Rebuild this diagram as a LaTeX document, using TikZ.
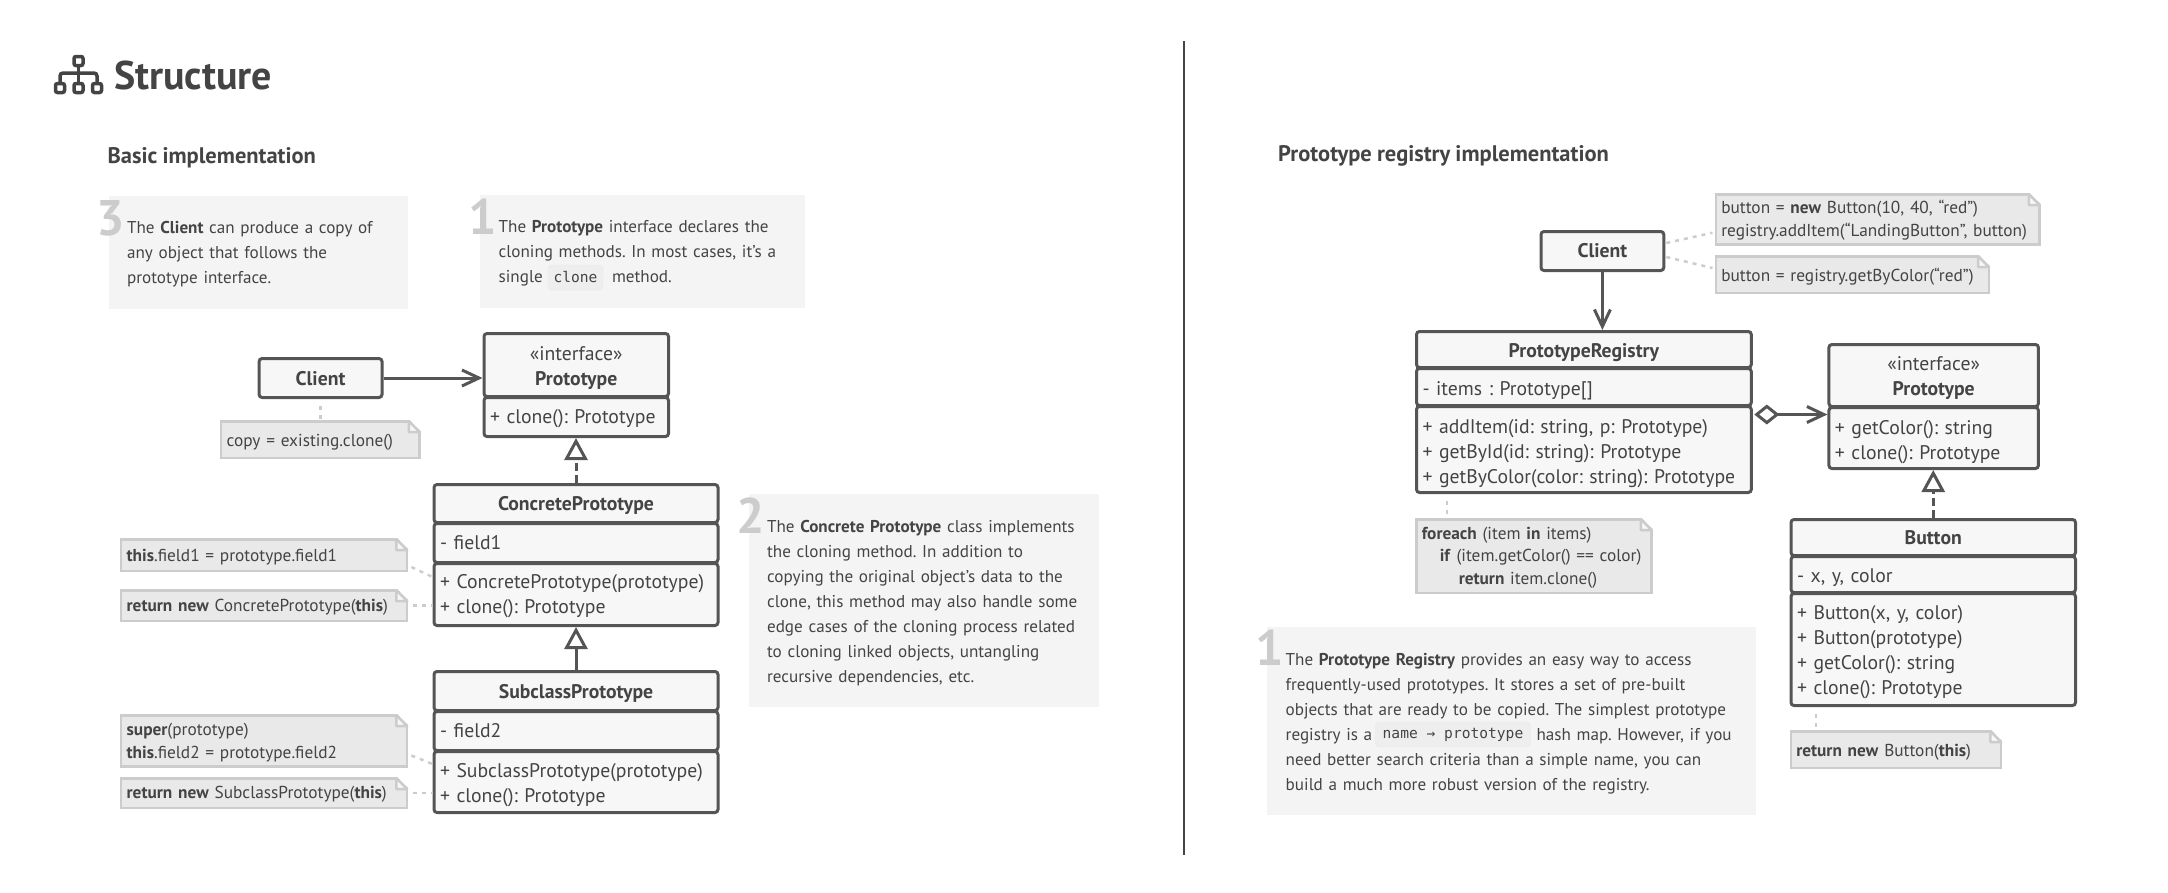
\documentclass[tikz,border=0pt]{standalone}
\usepackage{fontspec}
\setmainfont{PT Sans}[WordSpace=0.9]
\newfontfamily\codefont{DejaVu Sans Mono}
\usetikzlibrary{arrows.meta}
\definecolor{inkgray}{HTML}{444444}
\definecolor{linegray}{HTML}{555555}
\definecolor{boxfill}{HTML}{F7F7F7}
\definecolor{cardfill}{HTML}{F4F4F4}
\definecolor{notefill}{HTML}{E9E9E9}
\definecolor{noteline}{HTML}{CCCCCC}
\definecolor{chipfill}{HTML}{EEEEEE}
\tikzset{
  nudge/.style={execute at begin node={\rule{0pt}{#1}}},
  textfoot/.style={execute at end node={\rule[-8pt]{0pt}{8pt}}},
  classpart/.style 2 args={draw=linegray, fill=boxfill, line width=3pt, rounded corners=3pt,
    anchor=north west, align=left, inner xsep=6pt, inner ysep=0pt, text=inkgray, textfoot,
    text width=#1-12pt, minimum height=#2, font=\fontsize{19.7}{25}\selectfont},
  classhead/.style={align=center},
  notebox/.style 2 args={draw=noteline, fill=notefill, line width=2.5pt,
    anchor=north west, align=left, inner xsep=5.5pt, inner ysep=0pt, text=inkgray, textfoot,
    text width=#1-11pt, minimum height=#2, font=\fontsize{17.3}{22.5}\selectfont},
  foldtip/.style={draw=noteline, fill=boxfill, line width=2.5pt, line join=round},
  cardbox/.style 2 args={fill=cardfill, anchor=north west, align=left, inner xsep=18.5pt,
    inner ysep=0pt, text=inkgray, text width=#1-37pt, minimum height=#2, textfoot,
    font=\fontsize{17.1}{25}\selectfont},
  cardnum/.style={anchor=base west, inner sep=0pt, text=noteline, font=\fontsize{50}{50}\selectfont\bfseries},
  chipbox/.style={fill=chipfill, draw=black!9, rounded corners=4pt, inner xsep=0pt, inner ysep=0pt,
    text=inkgray, font=\fontsize{14.6}{18}\codefont},
  headtext/.style={anchor=base west, inner sep=0pt, text=inkgray, font=\fontsize{22.5}{26}\selectfont\bfseries},
  iconbox/.style={draw=inkgray, line width=3.5pt, rounded corners=2pt, minimum size=9pt, inner sep=0pt},
  link/.style={draw=linegray, line width=3pt},
  seelink/.style={link, -{Straight Barb[length=17pt,width=16pt]}},
  extendlink/.style={link, -{Triangle[open,length=22pt,width=23pt,fill=white]}},
  implementlink/.style={extendlink, dash pattern=on 8pt off 4pt},
  notelink/.style={draw=noteline, line width=2.5pt, dash pattern=on 4pt off 5pt},
}
\newcommand{\notefold}[1]{
  \fill[white] ([xshift=-12pt,yshift=1pt]#1.north east) -- ([xshift=1pt,yshift=1pt]#1.north east)
    -- ([xshift=1pt,yshift=-12pt]#1.north east) -- cycle;
  \draw[foldtip] ([xshift=-12pt,yshift=-1.25pt]#1.north east) -- ([xshift=-1.25pt,yshift=-12pt]#1.north east)
    -- ([xshift=-12pt,yshift=-12pt]#1.north east) -- cycle;
}
\frenchspacing
\begin{document}
\begin{tikzpicture}[x=1pt, y=-1pt]
  \useasboundingbox (0,0) rectangle (2168,892);
  \coordinate (dividertop) at (1184,41);
  \coordinate (dividerbottom) at (1184,855);
  \draw[inkgray, line width=1.2pt] (dividertop) -- (dividerbottom);

  \node[iconbox] (iconroot) at (78.5,61) {};
  \node[iconbox] (iconleft) at (60,88) {};
  \node[iconbox] (iconmid) at (78.5,88) {};
  \node[iconbox] (iconright) at (97,88) {};
  \draw[draw=inkgray, line width=3.5pt] (iconroot) -- (iconmid);
  \draw[draw=inkgray, line width=3.5pt, rounded corners=3pt] (iconleft) -- ++(0,-15) -| (iconright);
  \node[headtext, font=\fontsize{40}{44}\selectfont\bfseries] (structure) at (114,89) {Structure};
  \node[headtext] (basictitle) at (107.5,163) {Basic implementation};
  \node[headtext] (registrytitle) at (1278,161) {Prototype registry implementation};

  \node[cardbox={299.5pt}{113pt}, nudge=19pt] (cardclient) at (108.4,196) {The \textbf{Client} can produce a copy of\\
    any object that follows the\\ prototype interface.};
  \node[cardnum] (numclient) at (96,235) {3};
  \node[cardbox={325pt}{113pt}, nudge=19pt] (cardproto) at (480,195) {The \textbf{Prototype} interface declares the\\
    cloning methods. In most cases, it's a\\ single \hspace{58pt} method.};
  \node[cardnum] (numproto) at (468,234) {1};
  \node[chipbox, minimum width=55pt, minimum height=25pt] (chipclone) at (575.5,277.5) {clone};
  \node[cardbox={350pt}{213pt}, nudge=21pt] (cardconcrete) at (748.4,494) {The \textbf{Concrete Prototype} class implements\\
    the cloning method. In addition to\\ copying the original object's data to the\\
    clone, this method may also handle some\\ edge cases of the cloning process related\\
    to cloning linked objects, untangling\\ recursive dependencies, etc.};
  \node[cardnum] (numconcrete) at (736,533) {2};
  \node[cardbox={488.3pt}{188pt}, nudge=21pt] (cardregistry) at (1267,627) {The \textbf{Prototype Registry} provides an easy way to access\\
    frequently-used prototypes. It stores a set of pre-built\\
    objects that are ready to be copied. The simplest prototype\\
    \mbox{registry is a \hspace{153pt} hash map. However, if you}\\
    need better search criteria than a simple name, you can\\
    build a much more robust version of the registry.};
  \node[cardnum] (numregistry) at (1255,665) {1};
  \node[chipbox, minimum width=155pt, minimum height=25pt] (chipmap) at (1453,734.5) {name → prototype};

  \node[classpart={122.9pt}{39pt}, classhead, nudge=22pt] (clienta) at (257.6,357) {\textbf{Client}};
  \node[classpart={184.5pt}{63pt}, classhead, nudge=24pt] (protoahead) at (482.5,332) {«interface»\\ \textbf{Prototype}};
  \node[classpart={184.5pt}{39pt}, nudge=20pt] (protoamethods) at (482.5,396) {+ clone(): Prototype};
  \node[classpart={284pt}{38pt}, classhead, nudge=21pt] (concretehead) at (432.5,483) {\textbf{ConcretePrototype}};
  \node[classpart={284pt}{39pt}, nudge=20pt] (concretefields) at (432.5,522) {- field1};
  \node[classpart={284pt}{62pt}, nudge=20pt] (concretemethods) at (432.5,562) {+ ConcretePrototype(prototype)\\ + clone(): Prototype};
  \node[classpart={284pt}{39pt}, classhead, nudge=22pt] (subclasshead) at (432.5,670) {\textbf{SubclassPrototype}};
  \node[classpart={284pt}{39pt}, nudge=20pt] (subclassfields) at (432.5,710) {- field2};
  \node[classpart={284pt}{61pt}, nudge=23pt] (subclassmethods) at (432.5,750) {+ SubclassPrototype(prototype)\\ + clone(): Prototype};

  \node[notebox={198.4pt}{36.5pt}, nudge=21pt] (noteclone) at (219.9,420) {copy = existing.clone()};
  \node[notebox={286pt}{31.5pt}, nudge=20pt] (notefieldone) at (119.9,538) {\textbf{this}.field1 = prototype.field1};
  \node[notebox={286pt}{30.5pt}, nudge=19pt] (notecloneone) at (119.9,589) {\textbf{return new} ConcretePrototype(\textbf{this})};
  \node[notebox={286pt}{49.5pt}, nudge=20.5pt] (notefieldtwo) at (119.9,714) {\textbf{super}(prototype)\\ \textbf{this}.field2 = prototype.field2};
  \node[notebox={286pt}{29.5pt}, nudge=18pt] (noteclonetwo) at (119.9,777) {\textbf{return new} SubclassPrototype(\textbf{this})};
  \notefold{noteclone}
  \notefold{notefieldone}
  \notefold{notecloneone}
  \notefold{notefieldtwo}
  \notefold{noteclonetwo}

  \draw[seelink] (clienta.east) -- (clienta.east -| protoahead.west);
  \draw[implementlink] (concretehead.north) -- (concretehead.north |- protoamethods.south);
  \draw[extendlink] (subclasshead.north) -- (subclasshead.north |- concretemethods.south);
  \draw[notelink] ([yshift=-7pt]clienta.south) -- (noteclone.north -| clienta.south);
  \draw[notelink] ([xshift=3pt,yshift=5pt]notefieldone.south east) -- ([yshift=-15pt]concretemethods.north west);
  \draw[notelink] ([xshift=5pt]notecloneone.east) -- (notecloneone.east -| concretemethods.west);
  \draw[notelink] ([xshift=3pt,yshift=12pt]notefieldtwo.south east) -- ([yshift=-14pt]subclassmethods.north west);
  \draw[notelink] ([xshift=5pt]noteclonetwo.east) -- (noteclonetwo.east -| subclassmethods.west);

  \node[classpart={122.8pt}{39pt}, classhead, nudge=20pt] (clientb) at (1539.5,230) {\textbf{Client}};
  \node[classpart={334.8pt}{36pt}, classhead, nudge=23pt] (registryhead) at (1415,330) {\textbf{PrototypeRegistry}};
  \node[classpart={334.8pt}{37pt}, nudge=24pt] (registryfields) at (1415,367) {- items : Prototype[]};
  \node[classpart={334.8pt}{86pt}, nudge=25pt] (registrymethods) at (1415,405) {+ addItem(id: string, p: Prototype)\\
    + getById(id: string): Prototype\\ + getByColor(color: string): Prototype};
  \node[classpart={209.5pt}{62pt}, classhead, nudge=22pt] (protobhead) at (1827.4,343) {«interface»\\ \textbf{Prototype}};
  \node[classpart={209.5pt}{61pt}, nudge=25pt] (protobmethods) at (1827.4,406) {+ getColor(): string\\ + clone(): Prototype};
  \node[classpart={284.5pt}{36pt}, classhead, nudge=21pt] (buttonhead) at (1789.5,518) {\textbf{Button}};
  \node[classpart={284.5pt}{36pt}, nudge=23pt] (buttonfields) at (1789.5,555) {- x, y, color};
  \node[classpart={284.5pt}{112pt}, nudge=22pt] (buttonmethods) at (1789.5,592) {+ Button(x, y, color)\\ + Button(prototype)\\
    + getColor(): string\\ + clone(): Prototype};

  \node[notebox={323.8pt}{48.5pt}, nudge=19.5pt] (noteadd) at (1714.5,193) {button = \textbf{new} Button(10, 40, “red”)\\ registry.addItem(“LandingButton”, button)};
  \node[notebox={273pt}{36.5pt}, nudge=21pt] (noteget) at (1714.5,255) {button = registry.getByColor(“red”)};
  \node[notebox={235.4pt}{73.5pt}, nudge=19pt] (noteforeach) at (1415,518) {\textbf{foreach} (item \textbf{in} items)\\
    \hspace*{18pt}\textbf{if} (item.getColor() == color)\\ \hspace*{37pt}\textbf{return} item.clone()};
  \node[notebox={210.4pt}{36.5pt}, nudge=21pt] (notebutton) at (1789.5,730) {\textbf{return new} Button(\textbf{this})};
  \notefold{noteadd}
  \notefold{noteget}
  \notefold{noteforeach}
  \notefold{notebutton}

  \draw[seelink] (clientb.south) -- (clientb.south |- registryhead.north);
  \draw[link, {Diamond[open,length=25pt,width=20pt,fill=white]}-{Straight Barb[length=17pt,width=16pt]}, shorten <=1.5pt]
    ([yshift=35pt]registrymethods.east) -- ([yshift=23.5pt]protobmethods.west);
  \draw[implementlink] (buttonhead.north) -- (buttonhead.north |- protobmethods.south);
  \draw[notelink] ([xshift=1pt,yshift=8pt]clientb.east) -- ([xshift=-2pt,yshift=-13.5pt]noteadd.west);
  \draw[notelink] ([xshift=1pt,yshift=-6pt]clientb.east) -- ([xshift=-2pt,yshift=6.5pt]noteget.west);
  \draw[notelink] ([xshift=32pt,yshift=-7pt]registrymethods.south west) -- ([xshift=32pt]noteforeach.north west);
  \draw[notelink] ([xshift=26.5pt,yshift=-7pt]buttonmethods.south west) -- ([xshift=26.5pt]notebutton.north west);
\end{tikzpicture}
\end{document}
